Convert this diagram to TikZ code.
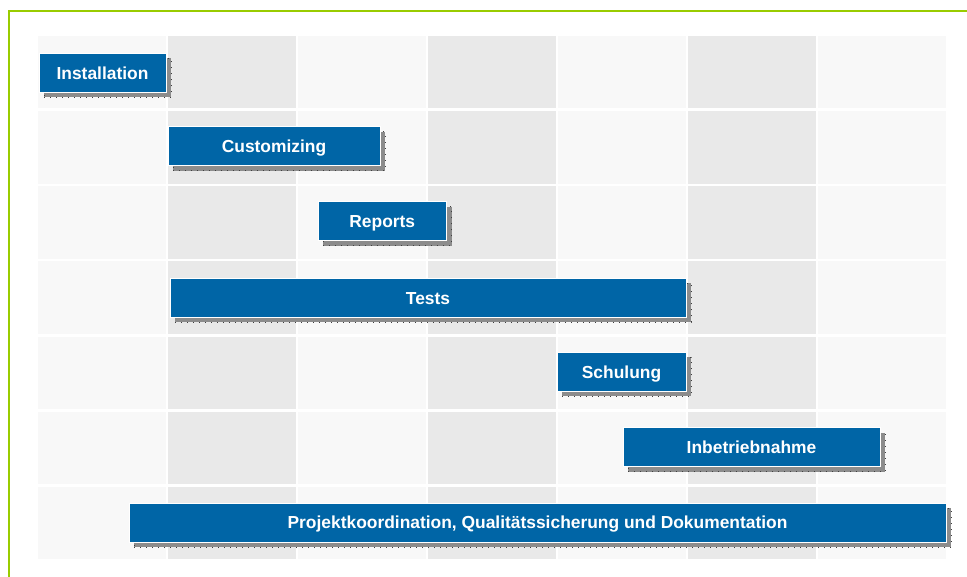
\documentclass[tikz,border=0pt]{standalone}
\usepackage{fontspec}
\setmainfont{Liberation Sans}
\usepackage{tikz}
\usetikzlibrary{positioning, shadows}
\definecolor{barblue}{RGB}{0,101,166}
\definecolor{celllight}{RGB}{248,248,248}
\definecolor{celldark}{RGB}{233,233,233}
\definecolor{framegreen}{RGB}{153,204,0}
\definecolor{shadowgray}{RGB}{140,140,140}
\tikzstyle{task} = [rectangle, minimum height=39pt, inner sep=0pt, text height=12.6pt, text depth=0pt, text centered, draw=white, line width=1pt, fill=barblue, text=white, font=\bfseries\fontsize{17.4}{20}\selectfont, drop shadow={shadow xshift=5pt, shadow yshift=-5pt, opacity=1, fill=shadowgray, draw=black!75, line width=1pt, dash pattern=on 1pt off 5pt}]
\tikzstyle{frame} = [framegreen, line width=2pt]

\begin{document}
\begin{tikzpicture}[x=1pt, y=-1pt]
        \useasboundingbox (0,0) rectangle (967,577);
        \draw [frame] (9,577) -- (9,11) -- (967,11);

        % grid of weeks and tasks
        \foreach \c in {0,...,6} {
            \foreach \r in {0,...,6} {
                \pgfmathsetmacro{\xa}{38+130*\c}
                \pgfmathsetmacro{\ya}{36+75.15*\r}
                \ifodd\c
                    \fill [celldark] (\xa,\ya) rectangle ++(128,72.5);
                \else
                    \fill [celllight] (\xa,\ya) rectangle ++(128,72.5);
                \fi
            }
        }

        \node (installation) [task, minimum width=127pt] at (102.5,73) {Installation};
        \node (customizing) [task, minimum width=212pt] at (274,146.5) {Customizing};
        \node (reports) [task, minimum width=128.5pt] at (382.25,221.5) {Reports};
        \node (tests) [task, minimum width=516pt] at (428,298) {Tests};
        \node (schulung) [task, minimum width=129pt] at (621.5,372) {Schulung};
        \node (inbetrieb) [task, minimum width=257pt] at (751.5,447) {Inbetriebnahme};
        \node (projekt) [task, minimum width=817pt] at (537.5,522.5) {Projektkoordination, Qualitätssicherung und Dokumentation};

        \end{tikzpicture}
\end{document}
